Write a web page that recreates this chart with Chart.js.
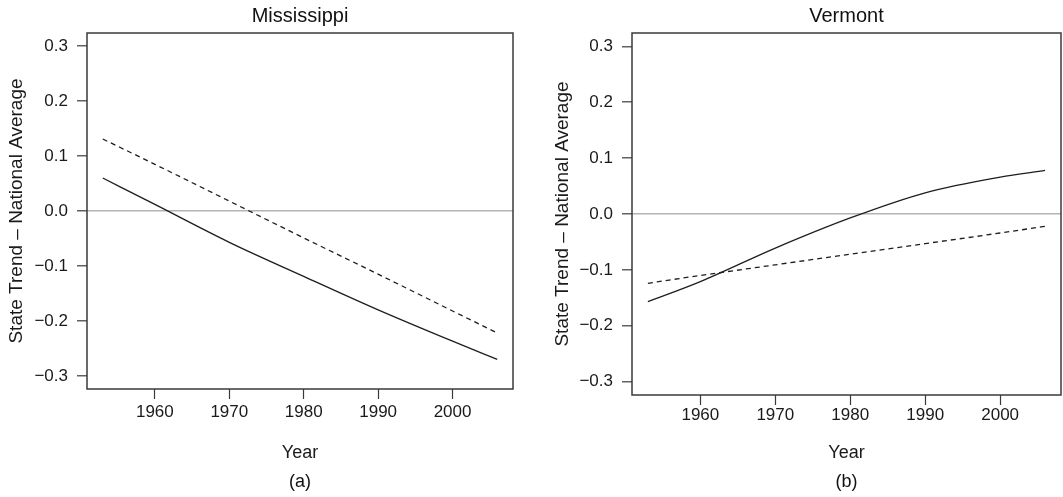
<!DOCTYPE html>
<html>
<head>
<meta charset="utf-8">
<script src="https://cdn.jsdelivr.net/npm/chart.js@4.4.0/dist/chart.umd.min.js"></script>
<style>
  html, body { margin: 0; padding: 0; background: #fff; }
  #wrap { position: relative; width: 1063px; height: 497px; }
  .panel { position: absolute; top: 0; }
  #panel-a { left: 0; }
  #panel-b { left: 531px; }
</style>
</head>
<body>
<div id="wrap">
  <div class="panel" id="panel-a"><canvas id="chart-a" width="531" height="497"></canvas></div>
  <div class="panel" id="panel-b"><canvas id="chart-b" width="532" height="497"></canvas></div>
</div>
<script>
// fitted trend relative to the national average, by year
let years    = [1953, 1960, 1970, 1980, 1990, 2000, 2006];
let msSolid  = [0.060, 0.012, -0.057, -0.119, -0.180, -0.237, -0.270];
let msDashed = [0.131, 0.085, 0.018, -0.049, -0.115, -0.182, -0.222];
let vtSolid  = [-0.157, -0.121, -0.061, -0.007, 0.038, 0.066, 0.078];
let vtDashed = [-0.124, -0.110, -0.091, -0.072, -0.053, -0.034, -0.022];

let xTicks = [1960, 1970, 1980, 1990, 2000];
let yTicks = [-0.3, -0.2, -0.1, 0.0, 0.1, 0.2, 0.3];
let xRange = [1950.88, 2008.12];
let yRange = [-0.324, 0.324];

Chart.defaults.font.family = '"Liberation Sans", Arial, Helvetica, sans-serif';
Chart.defaults.color = '#1a1a1a';

// closed box round the plotting region
const frame = {
  id: 'frame',
  afterDraw(chart) {
    const {ctx, chartArea: a} = chart;
    ctx.save();
    ctx.strokeStyle = '#3a3a3a';
    ctx.lineWidth = 1.5;
    ctx.strokeRect(a.left, a.top, a.right - a.left, a.bottom - a.top);
    ctx.restore();
  }
};

function fmt(v) {
  let s = Math.abs(v).toFixed(1);
  return v < -1e-9 ? '\u2212' + s : s;
}

function points(vals) {
  return vals.map((v, i) => ({x: years[i], y: v}));
}

function makeChart(id, state, tag, solid, dashed, o) {
  let ctx = document.getElementById(id).getContext('2d');
  return new Chart(ctx, {
    type: 'line',
    data: {
      datasets: [
        {
          label: state + ' solid',
          data: points(solid),
          borderColor: '#1e1e1e',
          borderWidth: 1.3,
          pointRadius: 0,
          cubicInterpolationMode: 'monotone'
        },
        {
          label: state + ' dashed',
          data: points(dashed),
          borderColor: '#1e1e1e',
          borderWidth: 1.3,
          borderDash: [5, 4],
          pointRadius: 0,
          cubicInterpolationMode: 'monotone'
        }
      ]
    },
    options: {
      responsive: false,
      animation: false,
      layout: { padding: { left: 0, right: o.padRight, top: 0, bottom: 0 } },
      plugins: {
        legend: { display: false },
        tooltip: { enabled: false },
        title: {
          display: true,
          text: state,
          fullSize: false,
          font: { size: 20, weight: 'normal' },
          color: '#111',
          padding: { top: 4.5, bottom: 4.5 }
        },
        subtitle: {
          display: true,
          text: tag,
          position: 'bottom',
          fullSize: false,
          font: { size: 18, weight: 'normal' },
          color: '#111',
          padding: { top: 0, bottom: 4.2 }
        }
      },
      scales: {
        x: {
          type: 'linear',
          min: xRange[0],
          max: xRange[1],
          afterBuildTicks: (s) => { s.ticks = xTicks.map(v => ({value: v})); },
          afterFit: (s) => { s.height = o.xHeight; },
          border: { display: false },
          grid: {
            drawOnChartArea: false,
            drawTicks: true,
            tickLength: 10,
            tickColor: '#3a3a3a',
            tickWidth: 1.2
          },
          ticks: {
            font: { size: 17 },
            color: '#1a1a1a',
            padding: o.xTickPad,
            maxRotation: 0,
            callback: (v) => String(v)
          },
          title: {
            display: true,
            text: 'Year',
            font: { size: 18 },
            color: '#1a1a1a',
            padding: { top: 0, bottom: 7.4 }
          }
        },
        y: {
          type: 'linear',
          min: yRange[0],
          max: yRange[1],
          afterBuildTicks: (s) => { s.ticks = yTicks.map(v => ({value: v})); },
          afterFit: (s) => { s.width = o.yWidth; },
          border: { display: false },
          grid: {
            drawOnChartArea: true,
            drawTicks: true,
            tickLength: 10,
            tickColor: '#3a3a3a',
            tickWidth: 1.2,
            lineWidth: 1.6,
            color: (c) => (c.tick && Math.abs(c.tick.value) < 1e-9) ? '#b4b4b4' : 'rgba(0,0,0,0)'
          },
          ticks: {
            font: { size: 17 },
            color: '#1a1a1a',
            padding: 9,
            callback: (v) => fmt(v)
          },
          title: {
            display: true,
            text: 'State Trend \u2013 National Average',
            font: { size: 19 },
            color: '#1a1a1a',
            padding: { top: o.yTitlePad, bottom: 0 }
          }
        }
      }
    },
    plugins: [frame]
  });
}

makeChart('chart-a', 'Mississippi', '(a)', msSolid, msDashed,
  { yWidth: 87, xHeight: 82.2, padRight: 18, yTitlePad: 5.6, xTickPad: 2.8 });
makeChart('chart-b', 'Vermont', '(b)', vtSolid, vtDashed,
  { yWidth: 101, xHeight: 76.2, padRight: 2, yTitlePad: 20.6, xTickPad: 0 });
</script>
</body>
</html>
